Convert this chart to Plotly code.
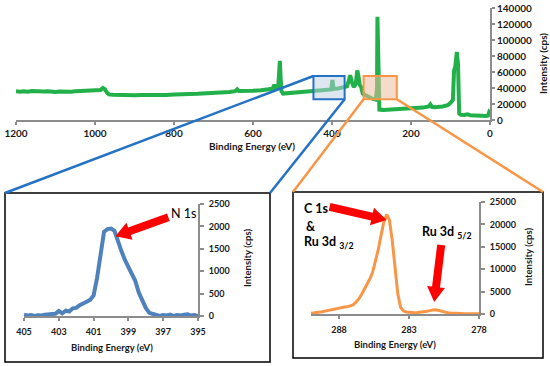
import math
import plotly.graph_objects as go

W, H = 550, 366

# ---------------- data ----------------
survey_be = [1200, 1190, 1180, 1170, 1160, 1150, 1140, 1130, 1120, 1110, 1100, 1090, 1080, 1070,
             1060, 1050, 1040, 1030, 1020, 1010, 1000, 992, 986, 980, 975, 970, 965, 955, 940, 920,
             900, 880, 860, 840, 820, 800, 780, 760, 740, 720, 700, 680, 660, 645, 640, 636, 620,
             600, 580, 560, 550, 546, 542, 536, 534, 532, 530, 528, 524, 510, 490, 470, 450, 430,
             410, 402, 399, 396, 385, 370, 362, 357, 354, 350, 345, 340, 336, 333, 330, 326, 322,
             315, 305, 295, 289, 286, 285, 283, 280, 270, 250, 220, 193, 170, 155, 151, 147, 140,
             120, 107, 100, 94, 91, 88, 84, 81, 78, 74, 65, 57, 50, 40, 30, 20, 10, 5, 2, 0]
survey_int = [35800, 35200, 36000, 35400, 36100, 35600, 36300, 35700, 35900, 35300, 35000, 35500,
              35100, 35800, 35400, 36000, 36400, 36100, 36800, 37000, 37600, 38200, 37600, 40000,
              38500, 34500, 32000, 31500, 31200, 31800, 31000, 31400, 31000, 31600, 31300, 32000,
              31800, 32500, 32800, 33200, 33900, 34200, 35000, 36000, 38300, 36200, 35800, 36500,
              37200, 37800, 39000, 44000, 40000, 42000, 60000, 74000, 52000, 36000, 33000, 33500,
              34000, 35200, 35800, 36800, 37800, 38200, 50000, 39000, 39500, 40500, 42000, 50000,
              56000, 48000, 41000, 45000, 62000, 55000, 44000, 41000, 33000, 31000, 28000, 26000,
              25500, 40000, 129000, 60000, 13000, 12500, 13000, 13800, 14500, 15500, 17000, 19500,
              16500, 16000, 17000, 18500, 21500, 25000, 62000, 66000, 85000, 70000, 8000, 6500,
              6200, 7000, 6000, 5500, 5200, 5000, 5000, 5500, 10000, 9000]

n1s_be = [405.0, 404.8, 404.6, 404.4, 404.2, 404.0, 403.8, 403.6, 403.4, 403.2, 403.0, 402.8,
          402.6, 402.4, 402.2, 402.0, 401.8, 401.6, 401.4, 401.2, 401.0, 400.8, 400.6, 400.4,
          400.2, 400.0, 399.8, 399.6, 399.4, 399.2, 399.0, 398.8, 398.6, 398.4, 398.2, 398.0,
          397.8, 397.6, 397.4, 397.2, 397.0, 396.8, 396.6, 396.4, 396.2, 396.0, 395.8, 395.6,
          395.4, 395.2, 395.0]
n1s_int = [30, 10, 20, 0, 15, 10, 30, 40, 60, 50, 110, 60, 120, 100, 170, 180, 240, 270, 320,
           360, 460, 850, 1350, 1880, 1940, 1950, 1900, 1650, 1450, 1250, 1080, 930, 780, 520,
           330, 180, 70, 40, 10, 0, 20, 10, 30, 0, 20, 10, 30, 40, 10, 20, 0]

c1s_be = [290.0, 289.8, 289.6, 289.4, 289.2, 289.0, 288.8, 288.6, 288.4, 288.2, 288.0, 287.8,
          287.6, 287.4, 287.2, 287.0, 286.8, 286.6, 286.4, 286.2, 286.0, 285.8, 285.6, 285.4,
          285.2, 285.0, 284.8, 284.6, 284.4, 284.2, 284.0, 283.8, 283.6, 283.4, 283.2, 283.0,
          282.8, 282.6, 282.4, 282.2, 282.0, 281.8, 281.6, 281.4, 281.2, 281.0, 280.8, 280.6,
          280.4, 280.2, 280.0, 279.8, 279.6, 279.4, 279.2, 279.0, 278.8, 278.6, 278.4, 278.2,
          278.0]
c1s_int = [150, 200, 300, 380, 500, 650, 800, 950, 1100, 1250, 1350, 1450, 1550, 1600, 1750,
           2050, 2600, 3300, 4300, 5400, 6500, 7800, 9300, 11500, 14300, 17500, 20500, 22200,
           21000, 16500, 10000, 4500, 1500, 700, 450, 350, 300, 300, 320, 350, 420, 550, 700,
           850, 950, 900, 700, 500, 350, 250, 200, 150, 120, 100, 100, 80, 80, 60, 60, 50, 50]

survey_xticks = [1200, 1000, 800, 600, 400, 200, 0]
survey_yticks = [0, 20000, 40000, 60000, 80000, 100000, 120000, 140000]
n1s_xticks = [405, 403, 401, 399, 397, 395]
n1s_yticks = [0, 500, 1000, 1500, 2000, 2500]
c1s_xticks = [288, 283, 278]
c1s_yticks = [0, 5000, 10000, 15000, 20000, 25000]

# zoom windows marked on the survey (eV, cps)
blue_window_be = [447, 368]
orange_window_be = [320, 236]
window_int = [26000, 55000]

# peak markers pointed at by the red arrows (eV, cps)
n1s_arrow_tip = (399.75, 1780)
c1s_arrow_tip = (284.6, 21000)
ru_arrow_tip = (281.2, 2700)

# ---------------- style ----------------
FONT = "Lato"
GREEN = "#22b04b"
BLUE_CURVE = "#4f81bd"
BLUE = "#2472c4"
ORANGE = "#f79646"
AXIS = "#8c8c8c"
RED = "#ff0000"
TXT = "#1a1a1a"


def px(x):
    return x / W


def py(y):
    return 1 - y / H


top_x_dom = [px(16), px(490)]
top_y_dom = [py(120), py(8)]
top_x_rng = [1200, 0]
top_y_rng = [0, 140000]

n1s_x_dom = [px(24), px(198)]
n1s_y_dom = [py(316), py(204)]
n1s_x_rng = [405, 395]
n1s_y_rng = [0, 2500]

c1s_x_dom = [px(311), px(479)]
c1s_y_dom = [py(314), py(202)]
c1s_x_rng = [290, 278]
c1s_y_rng = [0, 25000]


def to_paper(v, rng, dom):
    return dom[0] + (v - rng[0]) / (rng[1] - rng[0]) * (dom[1] - dom[0])


def top_to_paper(e, i):
    return to_paper(e, top_x_rng, top_x_dom), to_paper(i, top_y_rng, top_y_dom)


fig = go.Figure()
fig.add_trace(go.Scatter(x=survey_be, y=survey_int, mode="lines",
                         line=dict(color=GREEN, width=4), xaxis="x", yaxis="y"))
fig.add_trace(go.Scatter(x=n1s_be, y=n1s_int, mode="lines",
                         line=dict(color=BLUE_CURVE, width=4), xaxis="x2", yaxis="y2"))
fig.add_trace(go.Scatter(x=c1s_be, y=c1s_int, mode="lines",
                         line=dict(color=ORANGE, width=3), xaxis="x3", yaxis="y3"))


def axis(**kw):
    d = dict(showline=True, linecolor=AXIS, linewidth=2, ticks="outside", tickcolor=AXIS,
             tickwidth=1.5, ticklen=3, showgrid=False, zeroline=False, automargin=False,
             tickformat="d",
             tickfont=dict(family=FONT, size=10, color=TXT, weight="bold"))
    d.update(kw)
    return d


small_font = dict(family=FONT, size=9, color=TXT, weight="bold")

fig.update_layout(
    width=W, height=H, margin=dict(l=0, r=0, t=0, b=0, autoexpand=False),
    paper_bgcolor="white", plot_bgcolor="rgba(0,0,0,0)", showlegend=False,
    xaxis=axis(domain=top_x_dom, range=top_x_rng, tickvals=survey_xticks, anchor="y"),
    yaxis=axis(domain=top_y_dom, range=top_y_rng, tickvals=survey_yticks, side="right",
               anchor="x", ticklen=3),
    xaxis2=axis(domain=n1s_x_dom, range=n1s_x_rng, tickvals=n1s_xticks, anchor="y2",
                tickfont=small_font, ticklen=3, ticklabelstandoff=3),
    yaxis2=axis(domain=n1s_y_dom, range=n1s_y_rng, tickvals=n1s_yticks, side="right",
                anchor="x2", tickfont=small_font, ticklen=4, ticklabelstandoff=3),
    xaxis3=axis(domain=c1s_x_dom, range=c1s_x_rng, tickvals=c1s_xticks, anchor="y3",
                tickfont=small_font, ticklen=3, ticklabelstandoff=3),
    yaxis3=axis(domain=c1s_y_dom, range=c1s_y_rng, tickvals=c1s_yticks, side="right",
                anchor="x3", tickfont=small_font, ticklen=4, ticklabelstandoff=3),
)

shapes = []
# inset frames
shapes.append(dict(type="rect", xref="paper", yref="paper", x0=px(5), x1=px(270), y0=py(362),
                   y1=py(193), line=dict(color="black", width=1.5), layer="below"))
shapes.append(dict(type="rect", xref="paper", yref="paper", x0=px(293), x1=px(543), y0=py(358),
                   y1=py(192), line=dict(color="black", width=1.5), layer="below"))
# windows on the survey
shapes.append(dict(type="rect", xref="x", yref="y", x0=blue_window_be[0], x1=blue_window_be[1],
                   y0=window_int[0], y1=window_int[1], line=dict(color=BLUE, width=2),
                   fillcolor="rgba(190,205,225,0.5)", layer="above"))
shapes.append(dict(type="rect", xref="x", yref="y", x0=orange_window_be[0], x1=orange_window_be[1],
                   y0=window_int[0], y1=window_int[1], line=dict(color=ORANGE, width=2),
                   fillcolor="rgba(235,190,160,0.55)", layer="above"))


def connector(p0, p1, color):
    return dict(type="line", xref="paper", yref="paper", x0=p0[0], y0=p0[1], x1=p1[0], y1=p1[1],
                line=dict(color=color, width=2.5), layer="above")


shapes.append(connector(top_to_paper(blue_window_be[0], window_int[1]), (px(5), py(193)), BLUE))
shapes.append(connector(top_to_paper(blue_window_be[1], window_int[0]), (px(270), py(193)), BLUE))
shapes.append(connector(top_to_paper(orange_window_be[0], window_int[0]), (px(293), py(192)), ORANGE))
shapes.append(connector(top_to_paper(orange_window_be[1], window_int[0]), (px(543), py(192)), ORANGE))


def block_arrow(tip_paper, dx, dy, shaft=8, head_w=18, head_l=15):
    """Red block arrow whose tip sits at tip_paper; tail offset (dx, dy) in pixels."""
    tx, ty = tip_paper[0] * W, (1 - tip_paper[1]) * H
    sx, sy = tx + dx, ty + dy
    L = math.hypot(dx, dy)
    ux, uy = -dx / L, -dy / L          # direction tail -> tip
    nx, ny = -uy, ux
    bx, by = tx - ux * head_l, ty - uy * head_l
    pts = [
        (sx + nx * shaft / 2, sy + ny * shaft / 2),
        (bx + nx * shaft / 2, by + ny * shaft / 2),
        (bx + nx * head_w / 2, by + ny * head_w / 2),
        (tx, ty),
        (bx - nx * head_w / 2, by - ny * head_w / 2),
        (bx - nx * shaft / 2, by - ny * shaft / 2),
        (sx - nx * shaft / 2, sy - ny * shaft / 2),
    ]
    path = "M " + " L ".join(f"{p[0] / W:.5f},{1 - p[1] / H:.5f}" for p in pts) + " Z"
    return dict(type="path", xref="paper", yref="paper", path=path, fillcolor=RED,
                line=dict(width=0), layer="above")


shapes.append(block_arrow((to_paper(n1s_arrow_tip[0], n1s_x_rng, n1s_x_dom),
                           to_paper(n1s_arrow_tip[1], n1s_y_rng, n1s_y_dom)), 53, -19))
shapes.append(block_arrow((to_paper(c1s_arrow_tip[0], c1s_x_rng, c1s_x_dom),
                           to_paper(c1s_arrow_tip[1], c1s_y_rng, c1s_y_dom)), -57, -13))
shapes.append(block_arrow((to_paper(ru_arrow_tip[0], c1s_x_rng, c1s_x_dom),
                           to_paper(ru_arrow_tip[1], c1s_y_rng, c1s_y_dom)), 7, -57))
fig.update_layout(shapes=shapes)

ann = []
title_font = dict(family=FONT, size=10, color=TXT, weight="bold")
small_title = dict(family=FONT, size=9.5, color=TXT, weight="bold")


def label(x, y, text, font, angle=0, xanchor="center"):
    return dict(xref="paper", yref="paper", x=px(x), y=py(y), text=text, showarrow=False,
                font=font, textangle=angle, xanchor=xanchor, yanchor="middle")


ann.append(label(252, 146, "Binding Energy (eV)", title_font))
ann.append(label(543, 64, "Intensity (cps)", title_font, angle=-90))
ann.append(label(112, 347, "Binding Energy (eV)", small_title))
ann.append(label(247, 258, "Intensity (cps)", small_title, angle=-90))
ann.append(label(395, 344, "Binding Energy (eV)", small_title))
ann.append(label(528, 257, "Intensity (cps)", small_title, angle=-90))

lab_font = dict(family=FONT, size=12.5, color="black")
lab_bold = dict(family=FONT, size=12.5, color="black", weight="bold")
ann.append(label(169, 213, "N 1s", lab_font, xanchor="left"))
ann.append(label(302, 208, "C 1s", lab_bold, xanchor="left"))
ann.append(label(304, 226, "&amp;", lab_bold, xanchor="left"))
ann.append(label(302, 243, "Ru 3d <sub>3/2</sub>", lab_bold, xanchor="left"))
ann.append(label(420, 232, "Ru 3d <sub>5/2</sub>", lab_bold, xanchor="left"))

fig.update_layout(annotations=ann)

fig.write_html("out.html", config={"displayModeBar": False},
               post_script="document.body.style.margin='0px';document.body.style.overflow='hidden';")
